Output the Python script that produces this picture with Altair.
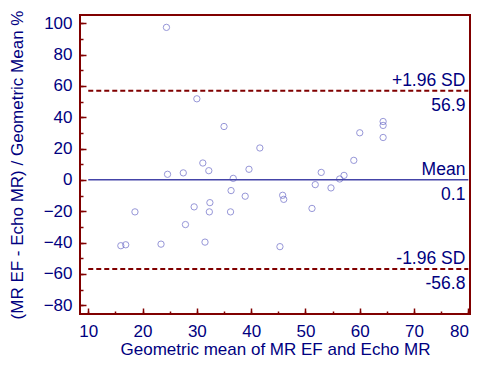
import altair as alt
import pandas as pd

# Scatter data (geometric mean, % difference)
x_vals = [24.4, 30.0, 35.0, 41.6, 31.1, 32.2, 24.6, 27.5, 39.6, 36.7, 36.3, 38.9,
          32.4, 29.5, 18.6, 32.3, 36.2, 27.9, 31.5, 23.4, 16.0, 16.9, 45.3, 45.8,
          46.0, 51.2, 51.8, 54.7, 52.9, 56.3, 57.1, 58.9, 60.0, 64.3, 64.3, 64.3]
y_vals = [97.4, 51.8, 34.1, 20.4, 10.8, 5.9, 3.6, 4.5, 6.8, 1.0, -6.8, -10.4,
          -14.5, -17.2, -20.4, -20.4, -20.4, -28.5, -39.7, -41.0, -42.0, -41.4, -42.6, -9.8,
          -12.4, -18.2, -3.0, -5.1, 4.8, 0.6, 2.9, 12.5, 30.1, 37.3, 34.8, 27.1]

# Reference lines
line_values = [56.9, 0.1, -56.8]
line_names = ["+1.96 SD", "Mean", "-1.96 SD"]
line_value_labels = ["56.9", "0.1", "-56.8"]
line_kinds = ["sd", "mean", "sd"]
line_x_start = 10
line_x_end = 80

# Axis ticks
x_major_ticks = list(range(10, 81, 10))
x_minor_ticks = list(range(10, 81, 5))
y_major_ticks = list(range(-80, 101, 20))
y_minor_ticks = list(range(-80, 101, 10))

pts = pd.DataFrame({"x": x_vals, "y": y_vals})
lines = pd.DataFrame({
    "y": line_values, "name": line_names, "val": line_value_labels,
    "kind": line_kinds,
    "x1": [line_x_start] * len(line_values),
    "x2": [line_x_end] * len(line_values),
})

FONT = "Liberation Sans"
TEXT = "#000080"
FRAME = "#800000"
PT = "#6b6bc8"
MEAN = "#4444a8"

xs = alt.Scale(domain=[8.48, 80.3], nice=False, zero=False)
ys = alt.Scale(domain=[-85.6, 105.3], nice=False, zero=False)

x_major = alt.Axis(values=x_major_ticks, orient="bottom", offset=-6, tickSize=6,
                   tickColor=FRAME, tickWidth=1.5, domain=False, grid=False,
                   labelFont=FONT, labelFontSize=17, labelColor=TEXT, labelPadding=9,
                   labelFlush=8, labelOverlap=False,
                   title="Geometric mean of MR EF and Echo MR", titleFont=FONT,
                   titleFontSize=17, titleFontWeight="normal", titleColor=TEXT,
                   titlePadding=2)
y_major = alt.Axis(values=y_major_ticks, orient="left", offset=-6, tickSize=6,
                   tickColor=FRAME, tickWidth=1.5, domain=False, grid=False,
                   labelFont=FONT, labelFontSize=17, labelColor=TEXT, labelPadding=8,
                   labelFlush=False, labelOverlap=False,
                   title="(MR EF - Echo MR) / Geometric Mean %", titleFont=FONT,
                   titleFontSize=17, titleFontWeight="normal", titleColor=TEXT,
                   titlePadding=17)
x_minor = alt.Axis(values=x_minor_ticks, orient="bottom", offset=-3, tickSize=3,
                   tickColor=FRAME, tickWidth=1.5, domain=False, grid=False,
                   labels=False, title=None)
y_minor = alt.Axis(values=y_minor_ticks, orient="left", offset=-3, tickSize=3,
                   tickColor=FRAME, tickWidth=1.5, domain=False, grid=False,
                   labels=False, title=None)

points = alt.Chart(pts).mark_point(shape="circle", filled=False, color=PT,
                                    size=40, strokeWidth=1).encode(
    x=alt.X("x:Q", scale=xs, axis=x_major),
    y=alt.Y("y:Q", scale=ys, axis=y_major),
)

sd_rules = alt.Chart(lines).transform_filter("datum.kind == 'sd'").mark_rule(
    color=FRAME, strokeWidth=2, strokeDash=[5, 3]).encode(
    x=alt.X("x1:Q", scale=xs, axis=x_minor),
    x2="x2:Q",
    y=alt.Y("y:Q", scale=ys, axis=y_minor),
)

mean_rule = alt.Chart(lines).transform_filter("datum.kind == 'mean'").mark_rule(
    color=MEAN, strokeWidth=1.5).encode(
    x=alt.X("x1:Q", scale=xs, axis=None),
    x2="x2:Q",
    y=alt.Y("y:Q", scale=ys, axis=None),
)

above = alt.Chart(lines).mark_text(align="right", baseline="alphabetic", dx=-3, dy=-5,
                                   font=FONT, fontSize=17.5, color=TEXT).encode(
    x=alt.X("x2:Q", scale=xs, axis=None),
    y=alt.Y("y:Q", scale=ys, axis=None),
    text="name:N",
)
below = alt.Chart(lines).mark_text(align="right", baseline="top", dx=-3, dy=6,
                                   font=FONT, fontSize=17.5, color=TEXT).encode(
    x=alt.X("x2:Q", scale=xs, axis=None),
    y=alt.Y("y:Q", scale=ys, axis=None),
    text="val:N",
)

chart = alt.layer(points, sd_rules, mean_rule, above, below).resolve_axis(
    x="independent", y="independent"
).properties(
    width=390, height=299,
    autosize=alt.AutoSizeParams(type="none"),
    padding={"left": 72, "top": 7, "right": 1, "bottom": 46},
).configure_view(stroke=FRAME, strokeWidth=2)

chart.save("out.html", embed_options={"renderer": "svg", "actions": False})
